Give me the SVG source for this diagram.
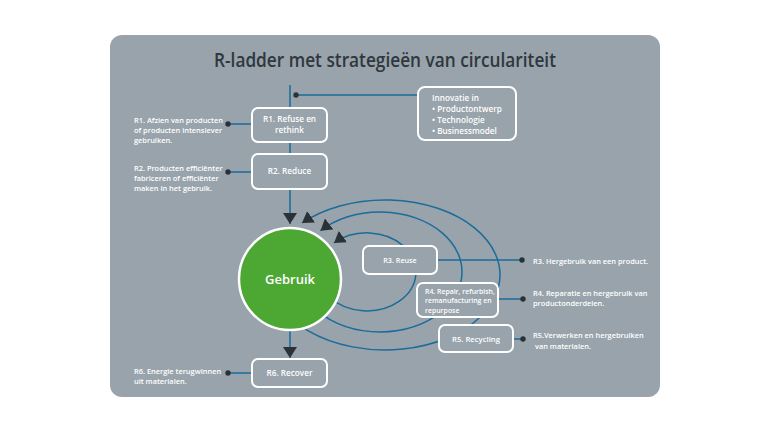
<svg xmlns="http://www.w3.org/2000/svg" width="768" height="432" viewBox="0 0 768 432">
<defs>
<style>
.bg{fill:#98a3ab}
.box{fill:#98a3ab;stroke:#ffffff;stroke-width:2}
.ln{fill:none;stroke:#1b6b9b;stroke-width:1.5}
.dot{fill:#2b3237}
.t{font-family:"Open Sans","Noto Sans",sans-serif;font-weight:600;fill:#ffffff;font-size:7.4px}
.c{text-anchor:middle}
.title{font-family:"Open Sans","Noto Sans",sans-serif;font-weight:600;fill:#30373d;font-size:19.5px;text-anchor:middle}
</style>
<marker id="ah" viewBox="0 0 11 14" refX="11" refY="7" markerWidth="11" markerHeight="14" markerUnits="userSpaceOnUse" orient="auto">
<path d="M0,0 L11,7 L0,14 z" fill="#2b3237"/>
</marker>
</defs>
<rect width="768" height="432" fill="#ffffff"/>
<rect class="bg" x="110" y="35" width="550" height="362" rx="12"/>
<text class="title" x="385" y="67" textLength="342" lengthAdjust="spacingAndGlyphs">R-ladder met strategieën van circulariteit</text>

<g id="connectors">
<path class="ln" d="M290 85 L290 224" marker-end="url(#ah)"/>
<path class="ln" d="M290 330 L290 358" marker-end="url(#ah)"/>
<path class="ln" d="M296 95 L418 95"/>
<path class="ln" d="M228 124 L252 124"/>
<path class="ln" d="M228 172 L252 172"/>
<path class="ln" d="M228 373 L252 373"/>
<path class="ln" d="M437 260 L522 260"/>
<path class="ln" d="M498 299 L523 299"/>
<path class="ln" d="M513 339 L523 339"/>
<path class="ln" d="M329.5 297 A 49 39 0 1 0 334 243" marker-end="url(#ah)"/>
<path class="ln" d="M309 302 A 82 60 0 1 0 320.5 230.7" marker-end="url(#ah)"/>
<path class="ln" d="M280.8 306.7 A 115 75 0 1 0 302 223" marker-end="url(#ah)"/>
<circle class="dot" cx="296" cy="95" r="2.7"/>
<circle class="dot" cx="228" cy="124" r="2.7"/>
<circle class="dot" cx="228" cy="172" r="2.7"/>
<circle class="dot" cx="228" cy="373" r="2.7"/>
<circle class="dot" cx="522" cy="260" r="2.7"/>
<circle class="dot" cx="523" cy="299" r="2.7"/>
<circle class="dot" cx="523" cy="339" r="2.7"/>
</g>

<g id="gebruik">
<circle cx="290" cy="279" r="51" fill="#4ca733" stroke="#ffffff" stroke-width="2.5"/>
<text class="t c" x="290" y="283.5" style="font-size:13px">Gebruik</text>
</g>

<g id="innovatie">
<rect class="box" x="418" y="87" width="98" height="53" rx="7"/>
<text class="t" x="432" y="101" style="font-size:8.2px">Innovatie in</text>
<text class="t" x="432" y="112" style="font-size:8.2px">• Productontwerp</text>
<text class="t" x="432" y="123" style="font-size:8.2px">• Technologie</text>
<text class="t" x="432" y="134" style="font-size:8.2px">• Businessmodel</text>
</g>

<g id="r1">
<rect class="box" x="252" y="108" width="75" height="34" rx="6"/>
<text class="t c" x="289.5" y="122" style="font-size:8.2px">R1. Refuse en</text>
<text class="t c" x="289.5" y="133" style="font-size:8.2px">rethink</text>
</g>
<g id="r1-desc">
<text class="t" x="134" y="122.5">R1. Afzien van producten</text>
<text class="t" x="134" y="132.5">of producten intensiever</text>
<text class="t" x="134" y="142.5">gebruiken.</text>
</g>

<g id="r2">
<rect class="box" x="252" y="154" width="75" height="35" rx="6"/>
<text class="t c" x="289.5" y="174" style="font-size:8.2px">R2. Reduce</text>
</g>
<g id="r2-desc">
<text class="t" x="134" y="170.5">R2. Producten efficiënter</text>
<text class="t" x="134" y="180.5">fabriceren of efficiënter</text>
<text class="t" x="134" y="190.5">maken in het gebruik.</text>
</g>

<g id="r3">
<rect class="box" x="363" y="246" width="74" height="28" rx="6"/>
<text class="t c" x="400" y="262.5" style="font-size:7.2px">R3. Reuse</text>
</g>
<g id="r3-desc">
<text class="t" x="533" y="263.5">R3. Hergebruik van een product.</text>
</g>

<g id="r4">
<rect class="box" x="417" y="283" width="81" height="34" rx="6"/>
<text class="t" x="425" y="293.5" style="font-size:6.9px">R4. Repair, refurbish,</text>
<text class="t" x="425" y="303" style="font-size:6.9px">remanufacturing en</text>
<text class="t" x="425" y="312.5" style="font-size:6.9px">repurpose</text>
</g>
<g id="r4-desc">
<text class="t" x="533" y="295.5">R4. Reparatie en hergebruik van</text>
<text class="t" x="533" y="305.5">productonderdelen.</text>
</g>

<g id="r5">
<rect class="box" x="439" y="325" width="74" height="27" rx="6"/>
<text class="t c" x="476" y="341.5" style="font-size:7.7px">R5. Recycling</text>
</g>
<g id="r5-desc">
<text class="t" x="533" y="337.5">R5.Verwerken en hergebruiken</text>
<text class="t" x="535" y="348.5">van materialen.</text>
</g>

<g id="r6">
<rect class="box" x="252" y="359" width="75" height="28" rx="6"/>
<text class="t c" x="289.5" y="376" style="font-size:8.2px">R6. Recover</text>
</g>
<g id="r6-desc">
<text class="t" x="134" y="373.5">R6. Energie terugwinnen</text>
<text class="t" x="134" y="384">uit materialen.</text>
</g>
</svg>
